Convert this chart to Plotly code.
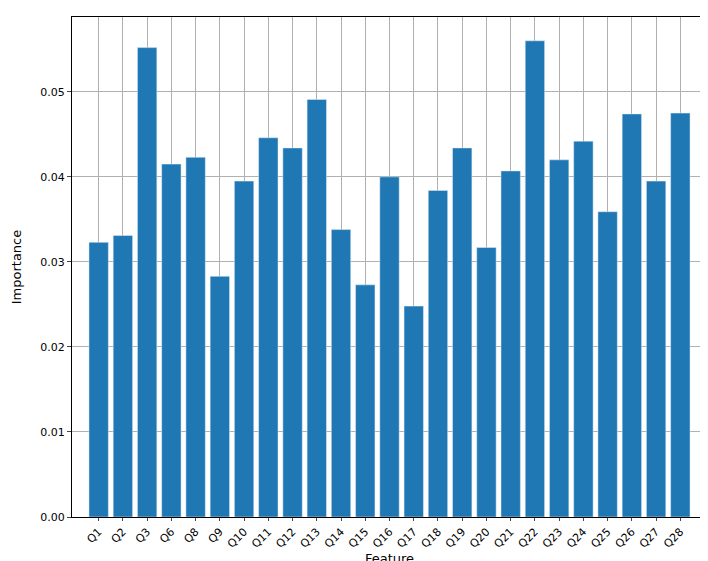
import plotly.graph_objects as go

features = ["Q1","Q2","Q3","Q6","Q8","Q9","Q10","Q11","Q12","Q13","Q14","Q15","Q16","Q17","Q18","Q19","Q20","Q21","Q22","Q23","Q24","Q25","Q26","Q27","Q28"]
importance = [0.0323,0.0331,0.0552,0.0415,0.0423,0.0283,0.0395,0.0446,0.0434,0.0491,0.0338,0.0273,0.0400,0.0248,0.0384,0.0434,0.0317,0.0407,0.0560,0.0420,0.0442,0.0359,0.0474,0.0395,0.0475]

fig = go.Figure(go.Bar(x=features, y=importance, marker_color="#1f77b4", width=0.8))
fig.update_layout(
    width=708, height=561, paper_bgcolor="white", plot_bgcolor="white",
    margin=dict(l=62, r=8, t=8, b=52),
    font=dict(family="DejaVu Sans", size=11, color="black"),
    showlegend=False,
)
fig.update_xaxes(title_text="Feature", title_standoff=0, tickangle=-45, showgrid=True, gridcolor="#b0b0b0",
                 showline=True, linecolor="black", mirror=True, ticks="outside", ticklen=3,
                 range=[-1.1, 25.1])
fig.update_yaxes(title_text="Importance", range=[0, 0.0588], dtick=0.01, tickformat=".2f",
                 showgrid=True, gridcolor="#b0b0b0", showline=True, linecolor="black", mirror=True,
                 ticks="outside", ticklen=4, zeroline=False)
fig.write_html("out.html")
